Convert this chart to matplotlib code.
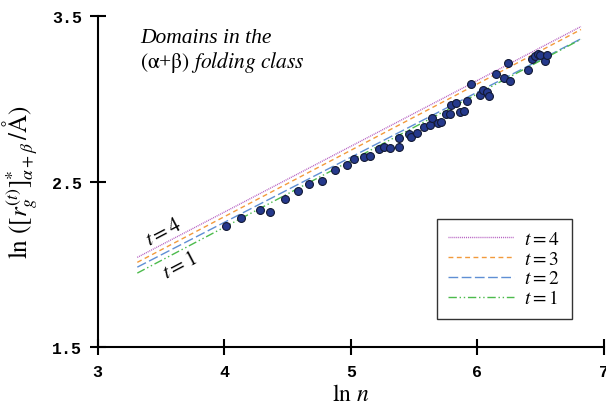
import numpy as np
import matplotlib
matplotlib.use("Agg")
import matplotlib.pyplot as plt

plt.rcParams['mathtext.fontset'] = 'stix'
plt.rcParams['font.family'] = ['Liberation Serif', 'DejaVu Serif']

# --- data -------------------------------------------------------------
ln_n = [4.011, 4.130, 4.282, 4.361, 4.482, 4.580, 4.671, 4.774, 4.874, 4.969,
        5.024, 5.106, 5.153, 5.222, 5.261, 5.311, 5.380, 5.380, 5.457, 5.475,
        5.522, 5.575, 5.622, 5.641, 5.688, 5.714, 5.749, 5.785, 5.791, 5.828,
        5.859, 5.893, 5.917, 5.946, 6.017, 6.041, 6.075, 6.091, 6.146, 6.209,
        6.239, 6.254, 6.399, 6.433, 6.457, 6.476, 6.496, 6.536, 6.549]
ln_rg = [2.231, 2.281, 2.328, 2.316, 2.394, 2.441, 2.483, 2.503, 2.571, 2.600,
         2.636, 2.650, 2.656, 2.695, 2.707, 2.704, 2.710, 2.763, 2.787, 2.773,
         2.797, 2.829, 2.841, 2.884, 2.855, 2.860, 2.908, 2.910, 2.962, 2.976,
         2.922, 2.928, 2.985, 3.093, 3.024, 3.053, 3.041, 3.015, 3.154, 3.127,
         3.218, 3.109, 3.176, 3.242, 3.258, 3.269, 3.264, 3.230, 3.266]

t_values = [4, 3, 2, 1]
line_x_range = [3.313, 6.818]
line_y_start = [2.042, 2.012, 1.983, 1.947]
line_y_end = [3.438, 3.420, 3.364, 3.361]

x_ticks = [3, 4, 5, 6, 7]
y_ticks = [1.5, 2.5, 3.5]

# --- styles -----------------------------------------------------------
line_colors = ['#b45cc0', '#f29a3c', '#5f8fd4', '#4cbb4c']
line_dashes = [(0.7, 0.7), (3.5, 2.5), (7, 2.5), (6, 2, 1, 2, 1, 2)]

fig = plt.figure(figsize=(6.06, 4.10), dpi=100)
ax = fig.add_axes([0.1612, 0.1512, 0.8355, 0.8066])

xs = np.array(line_x_range)
for t, c, d, y0, y1 in zip(t_values, line_colors, line_dashes,
                           line_y_start, line_y_end):
    ax.plot(xs, [y0, y1], color=c, lw=1.0, dashes=d, label=rf'$t = {t}$')

ax.scatter(ln_n, ln_rg, s=32, facecolor='#25398c', edgecolor='#111833',
           linewidth=0.8, zorder=3)

ax.set_xlim(3, 7)
ax.set_ylim(1.5, 3.5)
ax.set_xticks(x_ticks)
ax.set_yticks(y_ticks)
ax.set_xticklabels([str(v) for v in x_ticks])
ax.set_yticklabels([f'{v:.1f}' for v in y_ticks])

for s in ['top', 'right']:
    ax.spines[s].set_visible(False)
for s in ['left', 'bottom']:
    ax.spines[s].set_linewidth(1.5)

ax.tick_params(direction='inout', length=12, width=1.5)
ax.tick_params(axis='y', pad=5)
ax.tick_params(axis='x', pad=6)
for lab in ax.get_xticklabels() + ax.get_yticklabels():
    lab.set_family('Liberation Mono')
    lab.set_fontweight('bold')
    lab.set_fontsize(12)
    lab.set_clip_on(False)

ax.set_xlabel(r'$\ln\, n$', fontsize=17, labelpad=4)
ax.set_ylabel(r'$\ln\,([r_g^{(t)}]^{*}_{\alpha+\beta}\,/\mathrm{\AA})$',
              fontsize=18, labelpad=8)

ax.text(0.084, 0.922, 'Domains in the', transform=ax.transAxes,
        fontsize=15.5, style='italic', va='baseline', ha='left')
ax.text(0.084, 0.847, r'$(\mathrm{\alpha}$+$\mathrm{\beta})$ $\it{folding\ class}$',
        transform=ax.transAxes, fontsize=15.5, va='baseline', ha='left')

ax.text(3.524, 2.195, r'$t = 4$', fontsize=15, rotation=27.6,
        ha='center', va='center')
ax.text(3.65, 1.989, r'$t = 1$', fontsize=15, rotation=27.6,
        ha='center', va='center')

leg = ax.legend(loc='upper left', bbox_to_anchor=(0.6696, 0.387),
                borderaxespad=0, fontsize=14, handlelength=3.4,
                handletextpad=0.5, labelspacing=0.1, frameon=True,
                fancybox=False, borderpad=0.6)
leg.get_frame().set_edgecolor('black')
leg.get_frame().set_linewidth(1.0)

fig.savefig('out.png', dpi=100)
